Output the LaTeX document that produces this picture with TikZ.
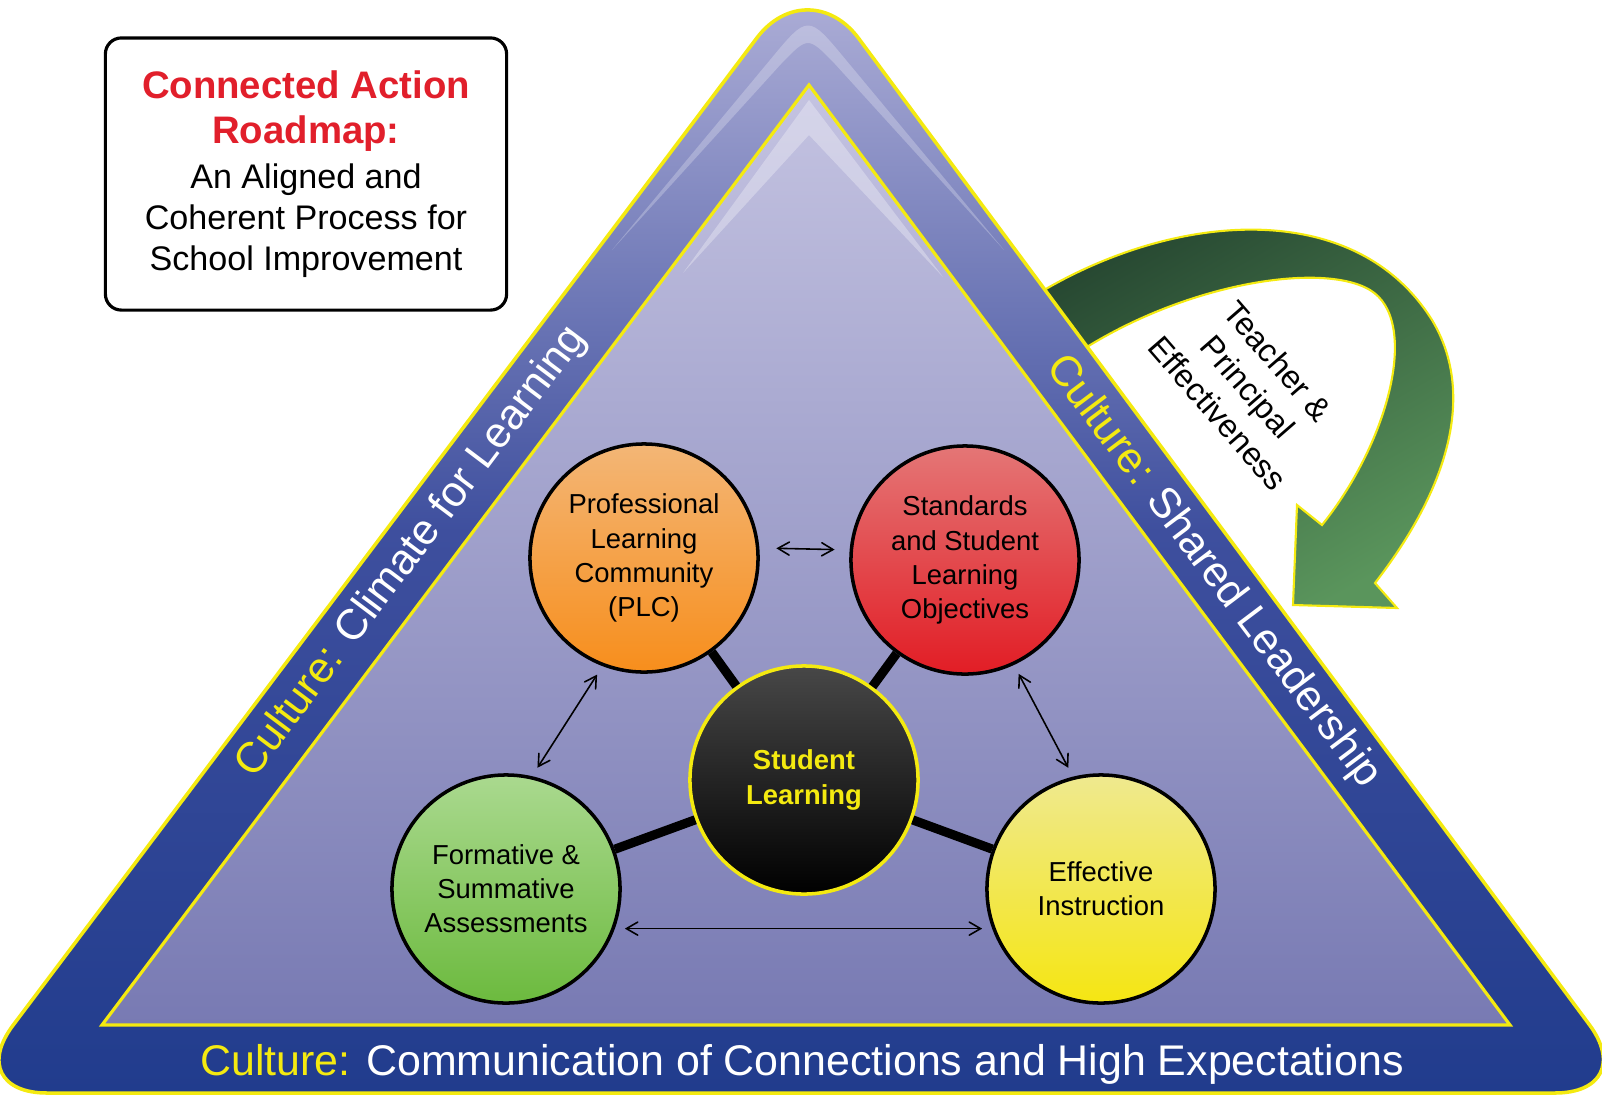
\documentclass[tikz,border=0pt]{standalone}
\usepackage{fontspec}
\setmainfont{Liberation Sans}
\usepackage{tikz}
\usepackage{xcolor}
\usetikzlibrary{arrows, positioning, calc}

\definecolor{bandtop}{HTML}{B2B2D9}
\definecolor{bandmid}{HTML}{3E4F9E}
\definecolor{bandbot}{HTML}{213C8D}
\definecolor{innertop}{HTML}{C4C3E1}
\definecolor{innerbot}{HTML}{787AB3}
\definecolor{rimgold}{HTML}{F4EA10}
\definecolor{roadred}{HTML}{E11F2B}
\definecolor{plctop}{HTML}{F3B676}
\definecolor{plcbot}{HTML}{F78E1C}
\definecolor{slotop}{HTML}{E47676}
\definecolor{slobot}{HTML}{E21D25}
\definecolor{asstop}{HTML}{AAD98F}
\definecolor{assbot}{HTML}{6CBA3E}
\definecolor{instop}{HTML}{EFE98F}
\definecolor{insbot}{HTML}{F5E612}
\definecolor{arrdark}{HTML}{254530}
\definecolor{arrlight}{HTML}{5A955C}

\newcommand{\roadhead}[1]{{\fontsize{10.9}{13}\selectfont\bfseries\color{roadred}#1}}

\begin{document}
\begin{tikzpicture}[x=0.01cm, y=-0.01cm,
  bubble/.style={circle, draw=black, line width=1pt, minimum size=2.28cm, inner sep=0pt,
    align=center, font=\fontsize{7.8}{9.7}\selectfont},
  spoke/.style={line width=2.6pt, black},
  link/.style={<->, >=angle 60, line width=0.45pt, shorten <=0.1cm, shorten >=0.1cm},
  bandtext/.style={text=white, font=\fontsize{12.2}{14}\selectfont, inner sep=0pt}]
\useasboundingbox (0,0) rectangle (1602,1096);
% green arrow, its tail runs under the band
\shadedraw[top color=arrdark, bottom color=arrlight, shading angle=30, draw=rimgold, line width=0.6pt]
  (1020,305) .. controls (1160,212) and (1352,192) .. (1432,320)
  .. controls (1477,395) and (1447,490) .. (1375,583) -- (1397,608) -- (1293,605)
  -- (1297,505) -- (1322,525) .. controls (1390,440) and (1420,320) .. (1370,290)
  .. controls (1320,260) and (1170,285) .. (1060,365) -- cycle;
% outer band
\shadedraw[top color=bandtop, bottom color=bandbot, middle color=bandmid, draw=rimgold,
  line width=1pt, rounded corners=0.85cm] (808,-30) -- (1640,1093) -- (-38,1093) -- cycle;
\fill[white, opacity=0.25] (612,250) -- (770,60) .. controls (808,14) .. (846,60) -- (1004,250)
  -- (835,64) .. controls (808,36) .. (781,64) -- cycle;
% inner field
\shadedraw[top color=innertop, bottom color=innerbot, draw=rimgold, line width=0.9pt]
  (809,85) -- (1510,1025) -- (102,1025) -- cycle;
\fill[white, opacity=0.3] (683,273) -- (809,100) -- (943,277) -- (809,135) -- cycle;

\node[bandtext, rotate=53] (climate) at (412,552) {\textcolor{rimgold}{Culture:} Climate for Learning};
\node[bandtext, rotate=-53] (shared) at (1213,572) {\textcolor{rimgold}{Culture:} Shared Leadership};
\node[bandtext] (comm) at (802,1064) {\textcolor{rimgold}{Culture:} Communication of Connections and High Expectations};

% the five circles
\node[bubble, top color=plctop, bottom color=plcbot] (plc) at (644,558) {Professional\\Learning\\Community\\(PLC)};
\node[bubble, top color=slotop, bottom color=slobot] (slo) at (965,560) {Standards\\and Student\\Learning\\Objectives};
\node[bubble, top color=asstop, bottom color=assbot] (assess) at (506,889) {Formative \&\\Summative\\Assessments};
\node[bubble, top color=instop, bottom color=insbot] (instr) at (1101,889) {Effective\\Instruction};
\node[bubble, top color=black!72, bottom color=black, draw=rimgold, text=rimgold,
  font=\fontsize{7.8}{9.7}\selectfont\bfseries] (core) at (804,780) {Student\\Learning};

\draw[spoke] (core) -- (plc);
\draw[spoke] (core) -- (slo);
\draw[spoke] (core) -- (assess);
\draw[spoke] (core) -- (instr);

\draw[link, shorten <=0.17cm, shorten >=0.15cm] (plc.5) -- (slo.175);
\draw[link] (assess.-20) -- (instr.200);
\draw[link] (plc.249) -- (assess.77);
\draw[link] (slo.295) -- (instr.104);

% title box
\node[draw, line width=0.9pt, rounded corners=0.16cm, fill=white, minimum width=4.01cm,
  minimum height=2.72cm, align=center, font=\fontsize{9.7}{11.7}\selectfont] (roadmap) at (306,174)
  {\roadhead{Connected Action}\\[1.2pt]\roadhead{Roadmap:}\\[1pt]An Aligned and\\Coherent Process for\\School Improvement};

\node[rotate=-49, align=center, font=\fontsize{9.2}{11.3}\selectfont] (effect) at (1248,387)
  {Teacher \&\\Principal\\Effectiveness};
\end{tikzpicture}
\end{document}
